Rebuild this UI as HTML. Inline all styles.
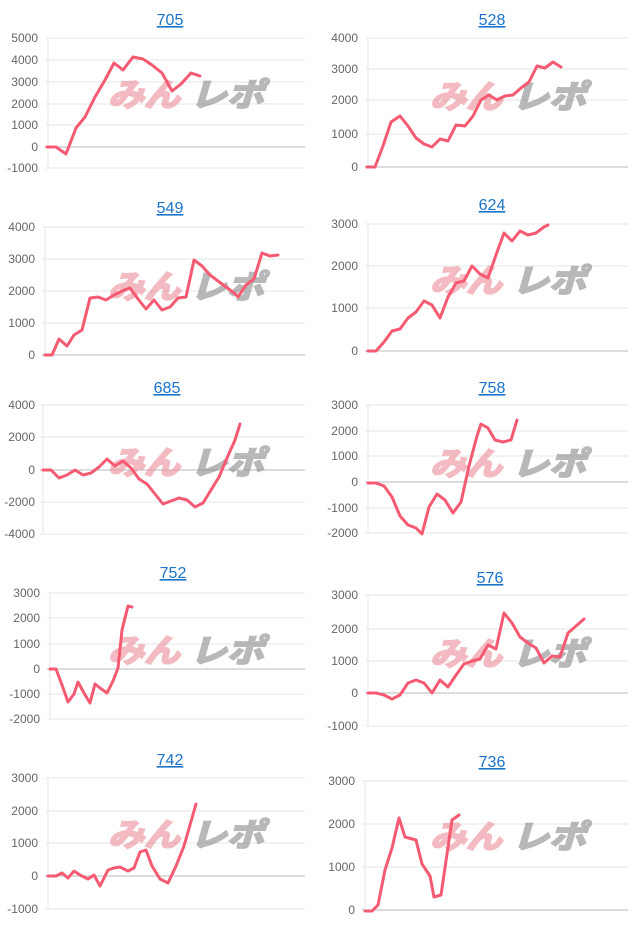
<!DOCTYPE html>
<html><head><meta charset="utf-8"><style>
body{margin:0;background:#fff;}
svg{display:block}
.t{font:16px "Liberation Sans",sans-serif;fill:#1a73c8;text-decoration:underline;text-anchor:middle}
.l{font:12px "Liberation Sans",sans-serif;fill:#666;text-anchor:end}
.g{stroke:#e6e6e6;stroke-width:1}
.z{stroke:#bbb;stroke-width:1}
.d{fill:none;stroke:#f45b73;stroke-width:3;stroke-linejoin:round;stroke-linecap:round}
.w1{font:italic bold 32px "Liberation Sans","Noto Sans CJK JP",sans-serif;fill:#ec8f99;stroke:#ec8f99;stroke-width:2;opacity:.6}
.w2{font:italic bold 32px "Liberation Sans","Noto Sans CJK JP",sans-serif;fill:#8a8a8a;stroke:#8a8a8a;stroke-width:2;opacity:.6}
</style></head><body>
<svg width="640" height="931" viewBox="0 0 640 931" xmlns="http://www.w3.org/2000/svg">
<defs>
<g id="wm"><text class="w1" x="0" y="0" textLength="72" lengthAdjust="spacingAndGlyphs">みん</text><text class="w2" x="82" y="0" textLength="74" lengthAdjust="spacingAndGlyphs">レポ</text></g>
</defs>

<!-- 705 -->
<text class="t" x="170" y="25">705</text>
<g>
<line class="g" x1="45" x2="305" y1="38" y2="38"/><line class="g" x1="45" x2="305" y1="60" y2="60"/><line class="g" x1="45" x2="305" y1="82" y2="82"/><line class="g" x1="45" x2="305" y1="104" y2="104"/><line class="g" x1="45" x2="305" y1="125" y2="125"/><line class="z" x1="45" x2="305" y1="147" y2="147"/><line class="g" x1="45" x2="305" y1="168" y2="168"/>
<line class="g" x1="48" x2="48" y1="38" y2="168"/>
<text class="l" x="38" y="42">5000</text><text class="l" x="38" y="64">4000</text><text class="l" x="38" y="86">3000</text><text class="l" x="38" y="108">2000</text><text class="l" x="38" y="129">1000</text><text class="l" x="38" y="151">0</text><text class="l" x="38" y="172">-1000</text>
<use href="#wm" x="108" y="106"/>
<polyline class="d" points="47,147 56,147 66,154 76,128 85,117 95,97 105,80 114,63 123,70 133,57 143,59 152,65 162,73 172,91 181,84 191,73 200,76"/>
</g>

<!-- 528 -->
<text class="t" x="492" y="25">528</text>
<g>
<line class="g" x1="365" x2="628" y1="38" y2="38"/><line class="g" x1="365" x2="628" y1="69" y2="69"/><line class="g" x1="365" x2="628" y1="100" y2="100"/><line class="g" x1="365" x2="628" y1="134" y2="134"/><line class="z" x1="365" x2="628" y1="167" y2="167"/>
<line class="g" x1="368" x2="368" y1="38" y2="167"/>
<text class="l" x="358" y="42">4000</text><text class="l" x="358" y="73">3000</text><text class="l" x="358" y="104">2000</text><text class="l" x="358" y="138">1000</text><text class="l" x="358" y="171">0</text>
<use href="#wm" x="430" y="108"/>
<polyline class="d" points="367,167 375,167 383,146 391,122 400,116 408,126 416,138 424,144 432,147 440,139 448,141 456,125 465,126 473,116 481,100 489,95 497,100 505,96 513,95 521,88 529,82 537,66 545,68 553,62 561,67"/>
</g>

<!-- 549 -->
<text class="t" x="170" y="213">549</text>
<g>
<line class="g" x1="42" x2="305" y1="227" y2="227"/><line class="g" x1="42" x2="305" y1="259" y2="259"/><line class="g" x1="42" x2="305" y1="291" y2="291"/><line class="g" x1="42" x2="305" y1="323" y2="323"/><line class="z" x1="42" x2="305" y1="355" y2="355"/>
<line class="g" x1="45" x2="45" y1="227" y2="355"/>
<text class="l" x="35" y="231">4000</text><text class="l" x="35" y="263">3000</text><text class="l" x="35" y="295">2000</text><text class="l" x="35" y="327">1000</text><text class="l" x="35" y="359">0</text>
<use href="#wm" x="108" y="298"/>
<polyline class="d" points="45,355 52,355 59,339 67,346 74,335 82,330 90,298 98,297 106,300 114,295 122,291 130,288 138,299 146,309 154,300 162,310 170,307 178,298 186,297 194,260 202,266 210,275 218,281 226,287 234,293 238,297 246,285 254,279 262,253 270,256 278,255"/>
</g>

<!-- 624 -->
<text class="t" x="492" y="210">624</text>
<g>
<line class="g" x1="365" x2="628" y1="224" y2="224"/><line class="g" x1="365" x2="628" y1="266" y2="266"/><line class="g" x1="365" x2="628" y1="308" y2="308"/><line class="z" x1="365" x2="628" y1="351" y2="351"/>
<line class="g" x1="368" x2="368" y1="224" y2="351"/>
<text class="l" x="358" y="228">3000</text><text class="l" x="358" y="270">2000</text><text class="l" x="358" y="312">1000</text><text class="l" x="358" y="355">0</text>
<use href="#wm" x="430" y="292"/>
<polyline class="d" points="368,351 376,351 384,342 392,331 400,329 408,318 416,312 424,301 432,305 440,318 448,297 456,283 464,281 472,266 480,274 488,278 496,255 504,233 512,241 520,231 528,235 536,233 544,227 548,225"/>
</g>

<!-- 685 -->
<text class="t" x="167" y="393">685</text>
<g>
<line class="g" x1="40" x2="305" y1="405" y2="405"/><line class="g" x1="40" x2="305" y1="437" y2="437"/><line class="z" x1="40" x2="305" y1="470" y2="470"/><line class="g" x1="40" x2="305" y1="502" y2="502"/><line class="g" x1="40" x2="305" y1="534" y2="534"/>
<line class="g" x1="43" x2="43" y1="405" y2="534"/>
<text class="l" x="35" y="409">4000</text><text class="l" x="35" y="441">2000</text><text class="l" x="35" y="474">0</text><text class="l" x="35" y="506">-2000</text><text class="l" x="35" y="538">-4000</text>
<use href="#wm" x="108" y="474"/>
<polyline class="d" points="43,470 51,470 59,478 67,475 75,470 83,475 91,473 99,467 107,459 115,466 123,461 131,468 139,479 147,484 155,494 163,504 171,501 179,498 187,500 195,507 203,503 211,490 219,477 227,458 235,440 240,424"/>
</g>

<!-- 758 -->
<text class="t" x="492" y="393">758</text>
<g>
<line class="g" x1="365" x2="628" y1="405" y2="405"/><line class="g" x1="365" x2="628" y1="431" y2="431"/><line class="g" x1="365" x2="628" y1="456" y2="456"/><line class="z" x1="365" x2="628" y1="482" y2="482"/><line class="g" x1="365" x2="628" y1="508" y2="508"/><line class="g" x1="365" x2="628" y1="533" y2="533"/>
<line class="g" x1="368" x2="368" y1="405" y2="533"/>
<text class="l" x="358" y="409">3000</text><text class="l" x="358" y="435">2000</text><text class="l" x="358" y="460">1000</text><text class="l" x="358" y="486">0</text><text class="l" x="358" y="512">-1000</text><text class="l" x="358" y="537">-2000</text>
<use href="#wm" x="430" y="475"/>
<polyline class="d" points="368,483 376,483 384,486 392,497 400,516 408,525 416,528 422,534 429,507 437,494 445,500 453,513 461,502 469,466 477,436 481,424 488,428 495,440 503,442 511,440 517,420"/>
</g>

<!-- 752 -->
<text class="t" x="173" y="578">752</text>
<g>
<line class="g" x1="47" x2="305" y1="593" y2="593"/><line class="g" x1="47" x2="305" y1="618" y2="618"/><line class="g" x1="47" x2="305" y1="644" y2="644"/><line class="z" x1="47" x2="305" y1="669" y2="669"/><line class="g" x1="47" x2="305" y1="694" y2="694"/><line class="g" x1="47" x2="305" y1="719" y2="719"/>
<line class="g" x1="50" x2="50" y1="593" y2="719"/>
<text class="l" x="40" y="597">3000</text><text class="l" x="40" y="622">2000</text><text class="l" x="40" y="648">1000</text><text class="l" x="40" y="673">0</text><text class="l" x="40" y="698">-1000</text><text class="l" x="40" y="723">-2000</text>
<use href="#wm" x="108" y="662"/>
<polyline class="d" points="50,669 56,669 62,685 68,702 74,694 78,682 84,693 90,703 95,684 100,688 107,693 113,681 118,668 122,630 128,606 132,607"/>
</g>

<!-- 576 -->
<text class="t" x="490" y="583">576</text>
<g>
<line class="g" x1="365" x2="628" y1="595" y2="595"/><line class="g" x1="365" x2="628" y1="629" y2="629"/><line class="g" x1="365" x2="628" y1="661" y2="661"/><line class="z" x1="365" x2="628" y1="693" y2="693"/><line class="g" x1="365" x2="628" y1="726" y2="726"/>
<line class="g" x1="368" x2="368" y1="595" y2="726"/>
<text class="l" x="358" y="599">3000</text><text class="l" x="358" y="633">2000</text><text class="l" x="358" y="665">1000</text><text class="l" x="358" y="697">0</text><text class="l" x="358" y="730">-1000</text>
<use href="#wm" x="430" y="665"/>
<polyline class="d" points="368,693 376,693 384,695 392,699 400,695 408,683 416,680 424,683 432,693 440,680 448,687 456,675 464,664 472,661 480,659 488,645 496,649 504,613 512,623 520,637 528,643 536,648 544,663 552,656 560,657 568,633 576,626 584,619"/>
</g>

<!-- 742 -->
<text class="t" x="170" y="765">742</text>
<g>
<line class="g" x1="45" x2="305" y1="778" y2="778"/><line class="g" x1="45" x2="305" y1="811" y2="811"/><line class="g" x1="45" x2="305" y1="843" y2="843"/><line class="z" x1="45" x2="305" y1="876" y2="876"/><line class="g" x1="45" x2="305" y1="909" y2="909"/>
<line class="g" x1="48" x2="48" y1="778" y2="909"/>
<text class="l" x="38" y="782">3000</text><text class="l" x="38" y="815">2000</text><text class="l" x="38" y="847">1000</text><text class="l" x="38" y="880">0</text><text class="l" x="38" y="913">-1000</text>
<use href="#wm" x="108" y="846"/>
<polyline class="d" points="48,876 56,876 62,873 68,878 74,871 80,875 88,879 94,875 100,886 108,870 114,868 120,867 128,871 134,868 140,852 146,850 152,866 160,879 168,883 176,866 184,846 190,825 196,804"/>
</g>

<!-- 736 -->
<text class="t" x="492" y="767">736</text>
<g>
<line class="g" x1="362" x2="628" y1="781" y2="781"/><line class="g" x1="362" x2="628" y1="824" y2="824"/><line class="g" x1="362" x2="628" y1="867" y2="867"/><line class="z" x1="362" x2="628" y1="910" y2="910"/>
<line class="g" x1="365" x2="365" y1="781" y2="910"/>
<text class="l" x="355" y="785">3000</text><text class="l" x="355" y="828">2000</text><text class="l" x="355" y="871">1000</text><text class="l" x="355" y="914">0</text>
<use href="#wm" x="430" y="848"/>
<polyline class="d" points="365,911 372,911 378,905 385,870 392,848 399,818 405,837 416,840 422,864 430,876 434,897 441,895 452,820 459,815"/>
</g>
</svg>
</body></html>
